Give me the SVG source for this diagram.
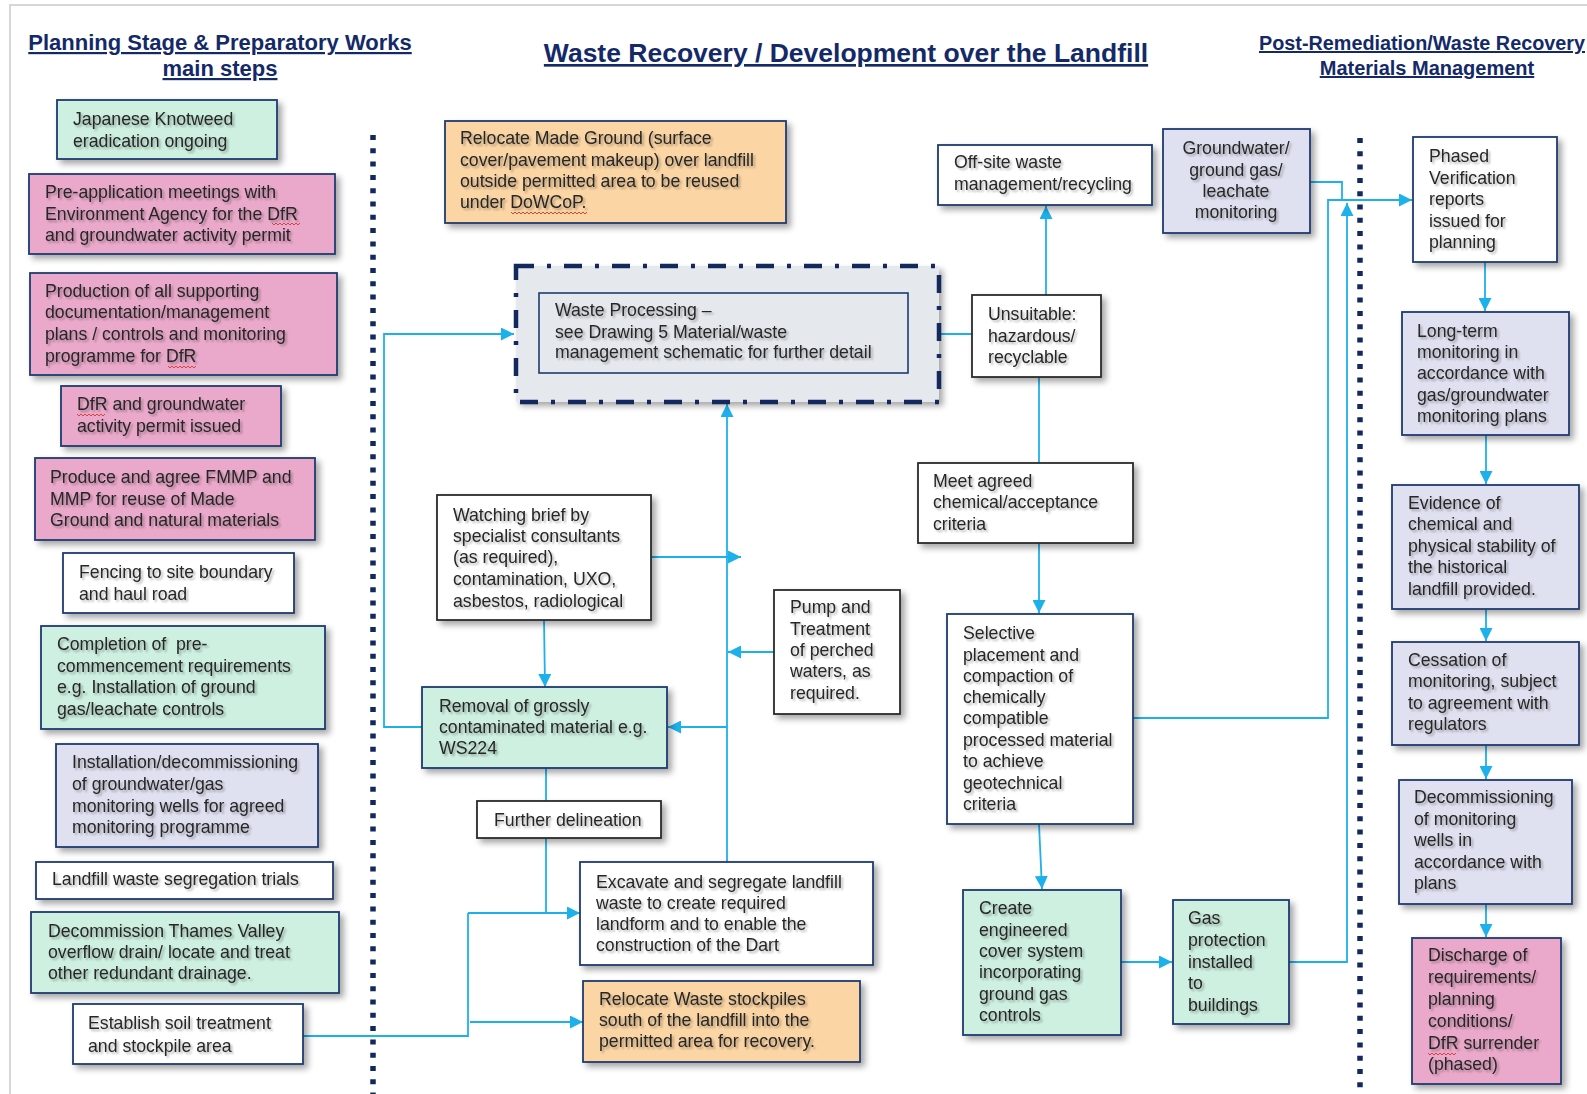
<svg xmlns="http://www.w3.org/2000/svg" width="1587" height="1094" viewBox="0 0 1587 1094">
<defs>
<filter id="sh" x="-10%" y="-10%" width="130%" height="140%">
<feDropShadow dx="4" dy="4" stdDeviation="3" flood-color="#000" flood-opacity="0.35"/>
</filter>
<filter id="ts" x="-5%" y="-20%" width="115%" height="150%">
<feGaussianBlur in="SourceAlpha" stdDeviation="1.3"/>
<feOffset dx="2" dy="2" result="o"/>
<feComponentTransfer><feFuncA type="linear" slope="0.3"/></feComponentTransfer>
<feMerge><feMergeNode/><feMergeNode in="SourceGraphic"/></feMerge>
</filter>
<marker id="ar" markerUnits="userSpaceOnUse" markerWidth="13" markerHeight="13" refX="13" refY="6.5" orient="auto">
<path d="M0,0 L13,6.5 L0,13 z" fill="#1DB1EC"/>
</marker>
</defs>
<style>
.bx{stroke:#1F3A70;stroke-width:1.8;filter:url(#sh)}
.bk{stroke:#2b2b2b;stroke-width:1.8;filter:url(#sh)}
.mint{fill:#CDF0E0}
.pink{fill:#EAA9CA}
.lav{fill:#DFE1F0}
.org{fill:#FBD5A4}
.wht{fill:#FFFFFF}
.gry{fill:#E5E9EE}
.t{font-family:"Liberation Sans",Arial,sans-serif;font-size:17.7px;fill:#262626;filter:url(#ts);white-space:pre}
.ttl{font-family:"Liberation Sans",Arial,sans-serif;font-weight:bold;fill:#142A68;text-decoration:underline;text-anchor:middle}
.cn{fill:none;stroke:#1DB1EC;stroke-width:1.8}
.dot{stroke:#13295E;stroke-width:5.5;stroke-dasharray:5 8.3}
.sq{fill:none;stroke:#E0403A;stroke-width:1}
</style>
<rect x="0" y="0" width="1587" height="1094" fill="#FFFFFF"/>
<path d="M10,1094 V5 H1587" fill="none" stroke="#D6D6D6" stroke-width="2"/>

<g id="titles">
<text class="ttl" x="220" y="50" font-size="22">Planning Stage &amp; Preparatory Works</text>
<text class="ttl" x="220" y="76" font-size="22">main steps</text>
<text class="ttl" x="846" y="62" font-size="26.5">Waste Recovery / Development over the Landfill</text>
<text class="ttl" x="1259" y="50" font-size="20" style="text-anchor:start" textLength="326" lengthAdjust="spacingAndGlyphs">Post-Remediation/Waste Recovery</text>
<text class="ttl" x="1427" y="75" font-size="20">Materials Management</text>
</g>

<g id="dividers">
<line class="dot" x1="373" y1="135" x2="373" y2="1094"/>
<line class="dot" x1="1360" y1="138" x2="1360" y2="1094"/>
</g>

<g id="connectors">
<path class="cn" d="M422,727 H384 V334 H514" marker-end="url(#ar)"/>
<path class="cn" d="M727,862 V404" marker-end="url(#ar)"/>
<path class="cn" d="M651,557 H741" marker-end="url(#ar)"/>
<path class="cn" d="M774,652 H728" marker-end="url(#ar)"/>
<path class="cn" d="M727,727 H668" marker-end="url(#ar)"/>
<path class="cn" d="M544,620 L545,687" marker-end="url(#ar)"/>
<path class="cn" d="M546,768 V801"/>
<path class="cn" d="M546,838 V913"/>
<path class="cn" d="M468,913 H580" marker-end="url(#ar)"/>
<path class="cn" d="M303,1036 H468 V913"/>
<path class="cn" d="M470,1022 H583" marker-end="url(#ar)"/>
<path class="cn" d="M939,334 H972"/>
<path class="cn" d="M1046,295 V206" marker-end="url(#ar)"/>
<path class="cn" d="M1039,377 V463"/>
<path class="cn" d="M1039,543 V613" marker-end="url(#ar)"/>
<path class="cn" d="M1039,824 L1042,889" marker-end="url(#ar)"/>
<path class="cn" d="M1121,962 H1172" marker-end="url(#ar)"/>
<path class="cn" d="M1133,718 H1328 V200 H1412" marker-end="url(#ar)"/>
<path class="cn" d="M1289,962 H1347 V203" marker-end="url(#ar)"/>
<path class="cn" d="M1310,182 H1342 V200"/>
<path class="cn" d="M1485,262 V311" marker-end="url(#ar)"/>
<path class="cn" d="M1486,435 V484" marker-end="url(#ar)"/>
<path class="cn" d="M1486,609 V641" marker-end="url(#ar)"/>
<path class="cn" d="M1486,745 V779" marker-end="url(#ar)"/>
<path class="cn" d="M1486,904 V937" marker-end="url(#ar)"/>
</g>

<g id="n-japanese"><rect class="bx mint" x="57" y="100" width="220" height="59"/>
<text class="t"><tspan x="73" y="125">Japanese Knotweed</tspan><tspan x="73" y="147">eradication ongoing</tspan></text></g>

<g id="n-preapp"><rect class="bx pink" x="29" y="174" width="306" height="80"/>
<text class="t"><tspan x="45" y="198">Pre-application meetings with</tspan><tspan x="45" y="220">Environment Agency for the DfR</tspan><tspan x="45" y="241">and groundwater activity permit</tspan></text>
<path class="sq" d="M272,223 l2,2 l2,-2 l2,2 l2,-2 l2,2 l2,-2 l2,2 l2,-2 l2,2 l2,-2 l2,2 l2,-2 l2,2 l2,-2"/></g>

<g id="n-production"><rect class="bx pink" x="30" y="273" width="307" height="102"/>
<text class="t"><tspan x="45" y="297">Production of all supporting</tspan><tspan x="45" y="318">documentation/management</tspan><tspan x="45" y="340">plans / controls and monitoring</tspan><tspan x="45" y="362">programme for DfR</tspan></text>
<path class="sq" d="M168,366 l2,2 l2,-2 l2,2 l2,-2 l2,2 l2,-2 l2,2 l2,-2 l2,2 l2,-2 l2,2 l2,-2 l2,2 l2,-2"/></g>

<g id="n-dfr"><rect class="bx pink" x="61" y="386" width="220" height="60"/>
<text class="t"><tspan x="77" y="410">DfR and groundwater</tspan><tspan x="77" y="432">activity permit issued</tspan></text>
<path class="sq" d="M77,414 l2,2 l2,-2 l2,2 l2,-2 l2,2 l2,-2 l2,2 l2,-2 l2,2 l2,-2 l2,2 l2,-2 l2,2 l2,-2"/></g>

<g id="n-produce"><rect class="bx pink" x="35" y="458" width="280" height="82"/>
<text class="t"><tspan x="50" y="483">Produce and agree FMMP and</tspan><tspan x="50" y="505">MMP for reuse of Made</tspan><tspan x="50" y="526">Ground and natural materials</tspan></text></g>

<g id="n-fencing"><rect class="bx wht" x="63" y="553" width="231" height="60"/>
<text class="t"><tspan x="79" y="578">Fencing to site boundary</tspan><tspan x="79" y="600">and haul road</tspan></text></g>

<g id="n-completion"><rect class="bx mint" x="41" y="626" width="284" height="103"/>
<text class="t"><tspan x="57" y="650">Completion of  pre-</tspan><tspan x="57" y="672">commencement requirements</tspan><tspan x="57" y="693">e.g. Installation of ground</tspan><tspan x="57" y="715">gas/leachate controls</tspan></text></g>

<g id="n-installation"><rect class="bx lav" x="56" y="744" width="262" height="103"/>
<text class="t"><tspan x="72" y="768">Installation/decommissioning</tspan><tspan x="72" y="790">of groundwater/gas</tspan><tspan x="72" y="812">monitoring wells for agreed</tspan><tspan x="72" y="833">monitoring programme</tspan></text></g>

<g id="n-trials"><rect class="bx wht" x="36" y="862" width="297" height="37"/>
<text class="t"><tspan x="52" y="885">Landfill waste segregation trials</tspan></text></g>

<g id="n-thames"><rect class="bx mint" x="31" y="912" width="308" height="81"/>
<text class="t"><tspan x="48" y="937">Decommission Thames Valley</tspan><tspan x="48" y="958">overflow drain/ locate and treat</tspan><tspan x="48" y="979">other redundant drainage.</tspan></text></g>

<g id="n-establish"><rect class="bx wht" x="73" y="1004" width="230" height="60"/>
<text class="t"><tspan x="88" y="1029">Establish soil treatment</tspan><tspan x="88" y="1052">and stockpile area</tspan></text></g>

<g id="n-relocate-made"><rect class="bx org" x="445" y="121" width="341" height="102"/>
<text class="t"><tspan x="460" y="144">Relocate Made Ground (surface</tspan><tspan x="460" y="166">cover/pavement makeup) over landfill</tspan><tspan x="460" y="187">outside permitted area to be reused</tspan><tspan x="460" y="208">under DoWCoP.</tspan></text>
<path class="sq" d="M511,212 l2,2 l2,-2 l2,2 l2,-2 l2,2 l2,-2 l2,2 l2,-2 l2,2 l2,-2 l2,2 l2,-2 l2,2 l2,-2 l2,2 l2,-2 l2,2 l2,-2 l2,2 l2,-2 l2,2 l2,-2 l2,2 l2,-2 l2,2 l2,-2 l2,2 l2,-2 l2,2 l2,-2 l2,2 l2,-2 l2,2 l2,-2 l2,2 l2,-2 l2,2 l2,-2"/></g>

<g id="n-waste-processing">
<rect class="gry" x="516" y="266" width="423" height="136" filter="url(#sh)"/>
<rect x="516" y="266" width="423" height="136" fill="none" stroke="#13295E" stroke-width="4.5" stroke-dasharray="18 13 4 13"/>
<rect class="gry" x="539" y="293" width="369" height="80" stroke="#1F3A70" stroke-width="1.6"/>
<text class="t"><tspan x="555" y="316">Waste Processing –</tspan><tspan x="555" y="338">see Drawing 5 Material/waste</tspan><tspan x="555" y="358">management schematic for further detail</tspan></text></g>

<g id="n-watching"><rect class="bk wht" x="437" y="495" width="214" height="125"/>
<text class="t"><tspan x="453" y="521">Watching brief by</tspan><tspan x="453" y="542">specialist consultants</tspan><tspan x="453" y="563">(as required),</tspan><tspan x="453" y="585">contamination, UXO,</tspan><tspan x="453" y="607">asbestos, radiological</tspan></text></g>

<g id="n-removal"><rect class="bx mint" x="422" y="687" width="245" height="81"/>
<text class="t"><tspan x="439" y="712">Removal of grossly</tspan><tspan x="439" y="733">contaminated material e.g.</tspan><tspan x="439" y="754">WS224</tspan></text></g>

<g id="n-pump"><rect class="bk wht" x="774" y="590" width="126" height="124"/>
<text class="t"><tspan x="790" y="613">Pump and</tspan><tspan x="790" y="635">Treatment</tspan><tspan x="790" y="656">of perched</tspan><tspan x="790" y="677">waters, as</tspan><tspan x="790" y="699">required.</tspan></text></g>

<g id="n-further"><rect class="bk wht" x="477" y="801" width="184" height="37"/>
<text class="t"><tspan x="494" y="826">Further delineation</tspan></text></g>

<g id="n-excavate"><rect class="bx wht" x="580" y="862" width="293" height="103"/>
<text class="t"><tspan x="596" y="888">Excavate and segregate landfill</tspan><tspan x="596" y="909">waste to create required</tspan><tspan x="596" y="930">landform and to enable the</tspan><tspan x="596" y="951">construction of the Dart</tspan></text></g>

<g id="n-relocate-waste"><rect class="bx org" x="583" y="981" width="277" height="81"/>
<text class="t"><tspan x="599" y="1005">Relocate Waste stockpiles</tspan><tspan x="599" y="1026">south of the landfill into the</tspan><tspan x="599" y="1047">permitted area for recovery.</tspan></text></g>

<g id="n-offsite"><rect class="bx wht" x="938" y="145" width="214" height="60"/>
<text class="t"><tspan x="954" y="168">Off-site waste</tspan><tspan x="954" y="190">management/recycling</tspan></text></g>

<g id="n-groundwater"><rect class="bx lav" x="1163" y="129" width="147" height="104"/>
<text class="t" text-anchor="middle"><tspan x="1236" y="154">Groundwater/</tspan><tspan x="1236" y="176">ground gas/</tspan><tspan x="1236" y="197">leachate</tspan><tspan x="1236" y="218">monitoring</tspan></text></g>

<g id="n-unsuitable"><rect class="bk wht" x="972" y="295" width="129" height="82"/>
<text class="t"><tspan x="988" y="320">Unsuitable:</tspan><tspan x="988" y="342">hazardous/</tspan><tspan x="988" y="363">recyclable</tspan></text></g>

<g id="n-meet"><rect class="bk wht" x="918" y="463" width="215" height="80"/>
<text class="t"><tspan x="933" y="487">Meet agreed</tspan><tspan x="933" y="508">chemical/acceptance</tspan><tspan x="933" y="530">criteria</tspan></text></g>

<g id="n-selective"><rect class="bx wht" x="947" y="614" width="186" height="210"/>
<text class="t"><tspan x="963" y="639">Selective</tspan><tspan x="963" y="661">placement and</tspan><tspan x="963" y="682">compaction of</tspan><tspan x="963" y="703">chemically</tspan><tspan x="963" y="724">compatible</tspan><tspan x="963" y="746">processed material</tspan><tspan x="963" y="767">to achieve</tspan><tspan x="963" y="789">geotechnical</tspan><tspan x="963" y="810">criteria</tspan></text></g>

<g id="n-create"><rect class="bx mint" x="963" y="890" width="158" height="145"/>
<text class="t"><tspan x="979" y="914">Create</tspan><tspan x="979" y="936">engineered</tspan><tspan x="979" y="957">cover system</tspan><tspan x="979" y="978">incorporating</tspan><tspan x="979" y="1000">ground gas</tspan><tspan x="979" y="1021">controls</tspan></text></g>

<g id="n-gas"><rect class="bx mint" x="1173" y="900" width="116" height="124"/>
<text class="t"><tspan x="1188" y="924">Gas</tspan><tspan x="1188" y="946">protection</tspan><tspan x="1188" y="968">installed</tspan><tspan x="1188" y="989">to</tspan><tspan x="1188" y="1011">buildings</tspan></text></g>

<g id="n-phased"><rect class="bx wht" x="1413" y="137" width="144" height="125"/>
<text class="t"><tspan x="1429" y="162">Phased</tspan><tspan x="1429" y="184">Verification</tspan><tspan x="1429" y="205">reports</tspan><tspan x="1429" y="227">issued for</tspan><tspan x="1429" y="248">planning</tspan></text></g>

<g id="n-longterm"><rect class="bx lav" x="1402" y="312" width="167" height="123"/>
<text class="t"><tspan x="1417" y="337">Long-term</tspan><tspan x="1417" y="358">monitoring in</tspan><tspan x="1417" y="379">accordance with</tspan><tspan x="1417" y="401">gas/groundwater</tspan><tspan x="1417" y="422">monitoring plans</tspan></text></g>

<g id="n-evidence"><rect class="bx lav" x="1392" y="485" width="187" height="124"/>
<text class="t"><tspan x="1408" y="509">Evidence of</tspan><tspan x="1408" y="530">chemical and</tspan><tspan x="1408" y="552">physical stability of</tspan><tspan x="1408" y="573">the historical</tspan><tspan x="1408" y="595">landfill provided.</tspan></text></g>

<g id="n-cessation"><rect class="bx lav" x="1392" y="642" width="187" height="103"/>
<text class="t"><tspan x="1408" y="666">Cessation of</tspan><tspan x="1408" y="687">monitoring, subject</tspan><tspan x="1408" y="709">to agreement with</tspan><tspan x="1408" y="730">regulators</tspan></text></g>

<g id="n-decommissioning"><rect class="bx lav" x="1399" y="780" width="173" height="124"/>
<text class="t"><tspan x="1414" y="803">Decommissioning</tspan><tspan x="1414" y="825">of monitoring</tspan><tspan x="1414" y="846">wells in</tspan><tspan x="1414" y="868">accordance with</tspan><tspan x="1414" y="889">plans</tspan></text></g>

<g id="n-discharge"><rect class="bx pink" x="1412" y="938" width="149" height="146"/>
<text class="t"><tspan x="1428" y="961">Discharge of</tspan><tspan x="1428" y="983">requirements/</tspan><tspan x="1428" y="1005">planning</tspan><tspan x="1428" y="1027">conditions/</tspan><tspan x="1428" y="1049">DfR surrender</tspan><tspan x="1428" y="1070">(phased)</tspan></text>
<path class="sq" d="M1428,1053 l2,2 l2,-2 l2,2 l2,-2 l2,2 l2,-2 l2,2 l2,-2 l2,2 l2,-2 l2,2 l2,-2 l2,2 l2,-2"/></g>
</svg>
